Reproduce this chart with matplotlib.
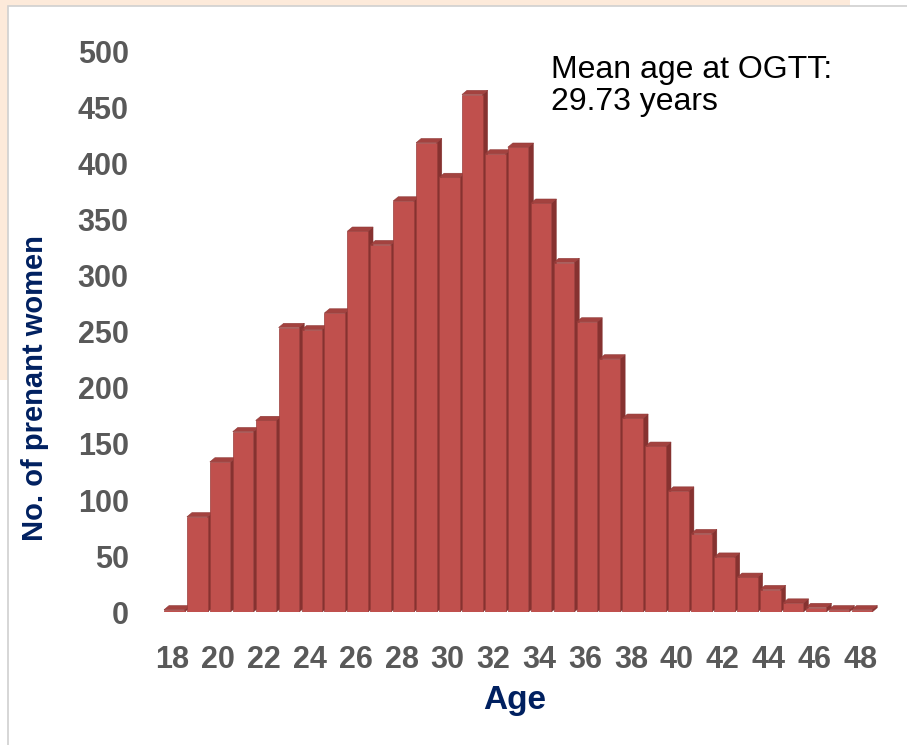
import matplotlib
matplotlib.use("Agg")
import matplotlib.pyplot as plt
from matplotlib.patches import Rectangle, Polygon

# ---- data ----
ages = list(range(18, 49))
counts = [2, 85, 134, 161, 171, 254, 252, 267, 340, 328, 367, 419, 388, 462,
          409, 415, 365, 312, 259, 226, 173, 148, 108, 70, 49, 31, 20, 8, 4, 2, 2]
xticks = list(range(18, 49, 2))
yticks = list(range(0, 501, 50))
ylabel = "No. of prenant women"
xlabel = "Age"
note = "Mean age at OGTT:\n29.73 years"

FACE = "#C0504D"
SIDE = "#863230"
TOP = "#A3423F"
NAVY = "#002060"
GREY = "#595959"
FONT = "Liberation Sans"

W, H = 907, 745
fig = plt.figure(figsize=(W / 100, H / 100), dpi=100)

# background pieces (slide look)
fig.add_artist(Rectangle((0, 1 - 380 / H), 850 / W, 380 / H, transform=fig.transFigure,
                         facecolor="#FDEADA", edgecolor="none", zorder=-10))
fig.add_artist(Rectangle((8 / W, -0.01), 1.0, 1 - 6 / H + 0.01, transform=fig.transFigure,
                         facecolor="white", edgecolor="#D0D0D0", linewidth=1.2, zorder=-9))

# axes placement: y=0 at px 612, 500 at px 52 ; x=18 at px 172.5, 22.92 px / year
ymax = 520
px_per_unit_y = 560 / 500
top_px = 612 - ymax * px_per_unit_y
xmin, xmax = 17.3, 49.5
pxu = 22.92
left_px = 172.5 - (18 - xmin) * pxu
right_px = 172.5 + (xmax - 18) * pxu
ax = fig.add_axes([left_px / W, (H - 612) / H, (right_px - left_px) / W, (612 - top_px) / H])
ax.set_facecolor("none")
ax.set_xlim(xmin, xmax)
ax.set_ylim(0, ymax)

width = 0.9
dx = 0.22
dy = 4.2 / px_per_unit_y
shift = 0.08

bars = ax.bar([a + shift for a in ages], counts, width=width, color=FACE,
              edgecolor="#9A3D3B", linewidth=0.5)
for i, (b, v) in enumerate(zip(bars, counts)):
    x0 = b.get_x()
    x1 = x0 + b.get_width()
    z = 2 + i * 3
    side = Polygon([(x1, 0), (x1 + dx, dy), (x1 + dx, v + dy), (x1, v)], closed=True,
                   facecolor=SIDE, edgecolor=SIDE, linewidth=0.3, zorder=z)
    top = Polygon([(x0, v), (x0 + dx, v + dy), (x1 + dx, v + dy), (x1, v)], closed=True,
                  facecolor=TOP, edgecolor="#8F3836", linewidth=0.4, zorder=z + 1)
    ax.add_patch(side)
    ax.add_patch(top)
    b.set_zorder(z + 2)

for s in ax.spines.values():
    s.set_visible(False)
ax.set_xticks(xticks)
ax.set_yticks(yticks)
ax.tick_params(length=0)
ax.tick_params(axis="x", pad=24)
ax.tick_params(axis="y", pad=20)
for lab in ax.get_xticklabels() + ax.get_yticklabels():
    lab.set_fontfamily(FONT)
    lab.set_fontweight("bold")
    lab.set_fontsize(22)
    lab.set_color(GREY)

fig.text(35 / W, 1 - 388 / H, ylabel, rotation=90, ha="center", va="center",
         fontfamily=FONT, fontweight="bold", fontsize=21, color=NAVY)
fig.text(515 / W, 1 - 700 / H, xlabel, ha="center", va="center",
         fontfamily=FONT, fontweight="bold", fontsize=24, color=NAVY)
fig.text(551 / W, 1 - 55 / H, note, ha="left", va="top", linespacing=1.1,
         fontfamily=FONT, fontsize=23, color="black")

fig.savefig("out.png", dpi=100)
